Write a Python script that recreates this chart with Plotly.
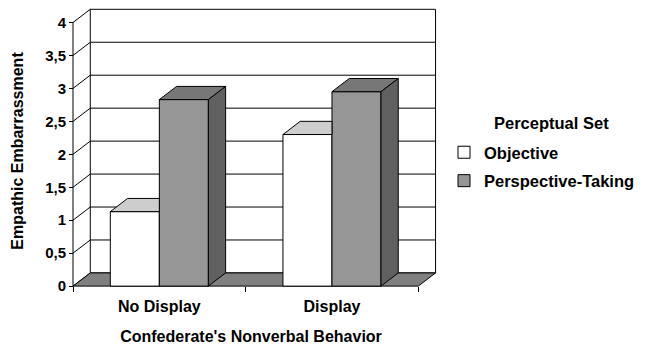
import plotly.graph_objects as go

# ---- data ----
categories = ["No Display", "Display"]
series_names = ["Objective", "Perspective-Taking"]
objective = [1.13, 2.30]
perspective = [2.83, 2.95]
y_tick_vals = [0, 0.5, 1, 1.5, 2, 2.5, 3, 3.5, 4]
y_tick_text = ["0", "0,5", "1", "1,5", "2", "2,5", "3", "3,5", "4"]
legend_title = "Perceptual Set"
x_title = "Confederate's Nonverbal Behavior"
y_title = "Empathic Embarrassment"

# ---- style / geometry ----
W, H = 650, 345
FONT = "Liberation Sans, Arial, sans-serif"
front_col = ["#ffffff", "#969696"]
top_col = ["#cdcdcd", "#777777"]
side_col = ["#cdcdcd", "#606060"]
floor_col = "#808080"
bar_w = 0.284        # width of one bar in category units
dx, dy = 0.1, 0.2    # depth offset (x in category units, y in value units)

# plot area in pixels
L, R, T, B = 63, 211, 6, 49
x_range = [-0.558, 1.62]
y_range = [-0.15, 4.25]
plot_w = W - L - R
plot_h = H - T - B
ymin_val, ymax_val = 0, 4
x_left, x_right = -0.5, len(categories) - 0.5


def px_to_paper_x(px):
    return (px - L) / plot_w


def px_to_paper_y(py):
    return 1 - (py - T) / plot_h


fig = go.Figure()

vals = [objective, perspective]
for s, name in enumerate(series_names):
    fig.add_trace(go.Bar(
        x=list(range(len(categories))), y=vals[s], name=name,
        width=bar_w, offset=(-bar_w if s == 0 else 0),
        marker=dict(color=front_col[s], line=dict(color="black", width=1)),
        legendgroup=name,
    ))

shapes = []
line_k = dict(color="black", width=1)
# back wall
shapes.append(dict(type="rect", xref="x", yref="y", x0=x_left + dx, x1=x_right + dx,
                   y0=ymin_val + dy, y1=ymax_val + dy, fillcolor="white", line=line_k, layer="below"))
# gridlines on back wall + diagonals on the side wall
for v in y_tick_vals:
    if 0 < v < ymax_val:
        shapes.append(dict(type="line", xref="x", yref="y", x0=x_left + dx, x1=x_right + dx,
                           y0=v + dy, y1=v + dy, line=line_k, layer="below"))
    shapes.append(dict(type="line", xref="x", yref="y", x0=x_left, x1=x_left + dx,
                       y0=v, y1=v + dy, line=line_k, layer="below"))
# floor
shapes.append(dict(type="path", xref="x", yref="y",
                   path=f"M{x_left},0 L{x_right},0 L{x_right + dx},{dy} L{x_left + dx},{dy} Z",
                   fillcolor=floor_col, line=line_k, layer="below"))
# front value axis line
shapes.append(dict(type="line", xref="x", yref="y", x0=x_left, x1=x_left, y0=0, y1=ymax_val,
                   line=line_k, layer="below"))

# 3D faces of bars
for c in range(len(categories)):
    for s in range(len(series_names)):
        v = vals[s][c]
        x0 = c - bar_w if s == 0 else c
        x1 = x0 + bar_w
        if s == 0:
            # top face, right part hidden behind the taller neighbouring bar
            path = f"M{x0},{v} L{x1},{v} L{x1},{v + dy} L{x0 + dx},{v + dy} Z"
            shapes.append(dict(type="path", xref="x", yref="y", path=path,
                               fillcolor=top_col[s], line=line_k, layer="above"))
        else:
            path = f"M{x0},{v} L{x1},{v} L{x1 + dx},{v + dy} L{x0 + dx},{v + dy} Z"
            shapes.append(dict(type="path", xref="x", yref="y", path=path,
                               fillcolor=top_col[s], line=line_k, layer="above"))
            path = f"M{x1},0 L{x1},{v} L{x1 + dx},{v + dy} L{x1 + dx},{dy} Z"
            shapes.append(dict(type="path", xref="x", yref="y", path=path,
                               fillcolor=side_col[s], line=line_k, layer="above"))

font_b = dict(family=FONT, size=16, color="black", weight="bold")
font_leg = dict(family=FONT, size=16.5, color="black", weight="bold")
fig.update_layout(
    width=W, height=H,
    margin=dict(l=L, r=R, t=T, b=B, pad=0, autoexpand=False),
    paper_bgcolor="white", plot_bgcolor="white",
    barmode="group",
    shapes=shapes,
    showlegend=True,
    legend=dict(
        font=font_leg, x=px_to_paper_x(444), xanchor="left",
        y=px_to_paper_y(166.5), yanchor="middle",
        traceorder="grouped", tracegroupgap=4, itemclick=False,
    ),
    annotations=[dict(
        text=legend_title, xref="paper", yref="paper",
        x=px_to_paper_x(551), y=px_to_paper_y(123), xanchor="center", yanchor="middle",
        showarrow=False, font=font_leg,
    )],
    xaxis=dict(
        range=x_range, showgrid=False, zeroline=False, showline=False, automargin=False,
        tickmode="array", tickvals=list(range(len(categories))), ticktext=categories,
        ticks="outside", ticklen=6, tickcolor="rgba(0,0,0,0)",
        tickfont=font_b,
        minor=dict(tickmode="array", tickvals=[x_left, 0.5, x_right], ticks="outside",
                   ticklen=5, tickcolor="black", tickwidth=1),
        anchor="free", position=(0 - y_range[0]) / (y_range[1] - y_range[0]),
        title=dict(text=x_title, font=font_b, standoff=18),
    ),
    yaxis=dict(
        range=y_range, showgrid=False, zeroline=False, showline=False, automargin=False,
        tickmode="array", tickvals=y_tick_vals, ticktext=y_tick_text,
        ticks="outside", ticklen=4, tickcolor="black",
        tickfont=dict(family=FONT, size=15, color="black", weight="bold"),
        anchor="free", position=(x_left - x_range[0]) / (x_range[1] - x_range[0]),
        title=dict(text=y_title, font=font_b, standoff=16),
    ),
)

fig.write_html("out.html")
